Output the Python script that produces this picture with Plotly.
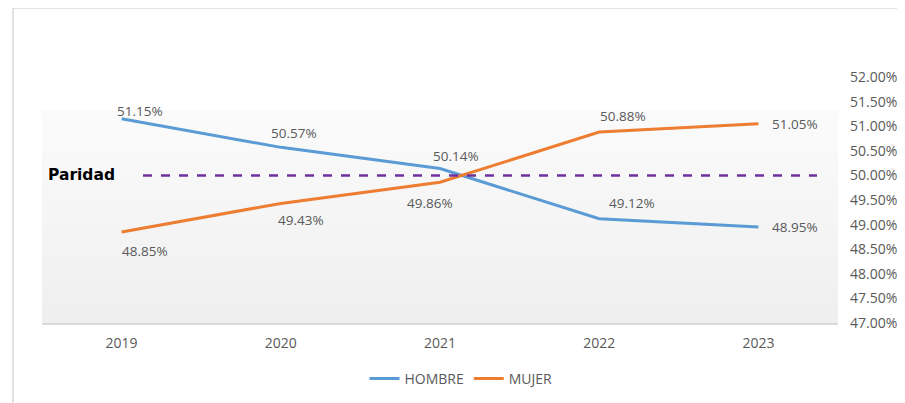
import plotly.graph_objects as go

years = ["2019", "2020", "2021", "2022", "2023"]
hombre = [51.15, 50.57, 50.14, 49.12, 48.95]
mujer = [48.85, 49.43, 49.86, 50.88, 51.05]
paridad = 50.0
y_ticks = [47.0, 47.5, 48.0, 48.5, 49.0, 49.5, 50.0, 50.5, 51.0, 51.5, 52.0]

C_H = "#5B9BD5"
C_M = "#ED7D31"
C_P = "#7030A0"
TXT = "#595959"

OFF = 8  # page body margin
W, H = 905 - OFF, 403 - OFF
PL, PR, PT, PB = 42, 838, 77, 323  # plot area in window pixels
L, R, T, B = PL - OFF, W - (PR - OFF), PT - OFF, H - (PB - OFF)

fig = go.Figure()
xi = list(range(len(years)))
fig.add_trace(go.Scatter(x=xi, y=hombre, mode="lines", name="HOMBRE",
                         line=dict(color=C_H, width=3)))
fig.add_trace(go.Scatter(x=xi, y=mujer, mode="lines", name="MUJER",
                         line=dict(color=C_M, width=3)))

# label offsets (style): (xshift, yshift) per point
h_off = [(18, 8), (13, 14), (16, 13), (33, 16), (37, 0)]
m_off = [(23, -19), (20, -17), (-10, -21), (24, 16), (37, 0)]
ann = []
for i, v in enumerate(hombre):
    ann.append(dict(x=i, y=v, text=f"{v:.2f}%", showarrow=False,
                    xshift=h_off[i][0], yshift=h_off[i][1],
                    font=dict(family="Open Sans", size=13.5, color=TXT)))
for i, v in enumerate(mujer):
    ann.append(dict(x=i, y=v, text=f"{v:.2f}%", showarrow=False,
                    xshift=m_off[i][0], yshift=m_off[i][1],
                    font=dict(family="Open Sans", size=13.5, color=TXT)))

pw = PR - PL
ph = PB - PT
def px(xpix):
    return (xpix - PL) / pw
def py(ypix):
    return (PB - ypix) / ph

ann.append(dict(xref="paper", yref="y", x=px(46), y=paridad, text="<b>Paridad</b>",
                showarrow=False, xanchor="left",
                font=dict(family="DejaVu Sans", size=15.5, color="#000000")))

shapes = [
    dict(type="line", xref="paper", yref="y", x0=px(143), x1=px(817), y0=paridad, y1=paridad,
         line=dict(color=C_P, width=2.5, dash="dash")),
    dict(type="rect", xref="paper", yref="paper", x0=px(13), x1=px(903.5), y0=py(430), y1=py(8),
         line=dict(color="#D9D9D9", width=1.5), fillcolor="rgba(0,0,0,0)", layer="below"),
]

svg = ("data:image/svg+xml;utf8,<svg xmlns='http://www.w3.org/2000/svg' width='100' height='100' "
       "preserveAspectRatio='none'><defs><linearGradient id='g' x1='0' y1='0' x2='0' y2='1'>"
       "<stop offset='0' stop-color='%23fbfbfb'/><stop offset='1' stop-color='%23efefef'/>"
       "</linearGradient></defs><rect width='100' height='100' fill='url(%23g)'/></svg>")
images = [dict(source=svg, xref="paper", yref="paper", x=0, y=py(110), sizex=1,
               sizey=py(110), xanchor="left", yanchor="top", sizing="stretch", layer="below")]

fig.update_layout(
    width=W, height=H,
    margin=dict(l=L, r=R, t=T, b=B, pad=0, autoexpand=False),
    paper_bgcolor="white", plot_bgcolor="rgba(0,0,0,0)",
    font=dict(family="Open Sans", size=13, color=TXT),
    showlegend=True,
    legend=dict(orientation="h", x=px(461), xanchor="center", y=py(379), yanchor="middle",
                font=dict(family="Open Sans", size=14, color=TXT), itemwidth=30),
    annotations=ann, shapes=shapes, images=images,
    xaxis=dict(range=[-0.5, 4.5], tickmode="array", tickvals=xi, ticktext=years,
               showgrid=False, zeroline=False, showline=True, linecolor="#D9D9D9",
               linewidth=1.5, ticks="", ticklabelstandoff=6, automargin=False,
               tickfont=dict(size=14, color=TXT)),
    yaxis=dict(range=[47, 52], side="right", tickmode="array", tickvals=y_ticks,
               ticktext=[f"{v:.2f}%" for v in y_ticks], showgrid=False, zeroline=False,
               showline=False, ticks="", ticklabelstandoff=11, automargin=False,
               tickfont=dict(size=14, color=TXT)),
)

fig.write_html("out.html")
